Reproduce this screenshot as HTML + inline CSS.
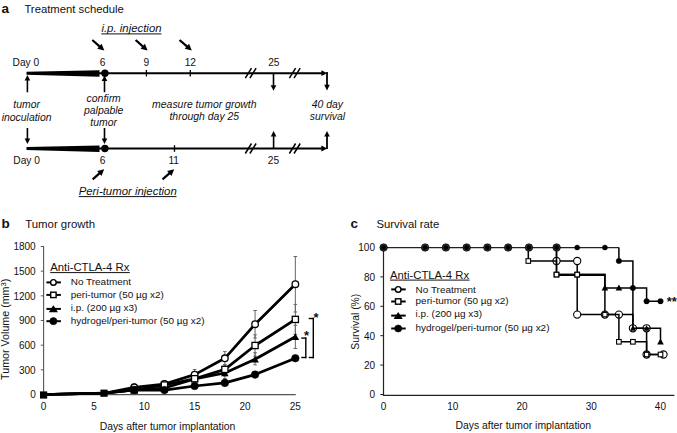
<!DOCTYPE html>
<html><head><meta charset="utf-8"><style>
html,body{margin:0;padding:0;background:#fff;}
svg{display:block;}
text{font-family:"Liberation Sans", sans-serif;fill:#111;}
</style></head><body>
<svg width="677" height="433" viewBox="0 0 677 433">
<rect width="677" height="433" fill="#fff"/>
<text x="1.50" y="13.20" font-size="13.5" text-anchor="start" font-weight="bold">a</text>
<text x="24.40" y="13.10" font-size="11.3" text-anchor="start">Treatment schedule</text>
<polygon points="26.50,71.80 99.50,70.30 99.50,76.70 26.50,74.80" fill="#000"/>
<line x1="99.00" y1="73.20" x2="322.00" y2="73.20" stroke="#000" stroke-width="2"/>
<circle cx="104.9" cy="73.20" r="3.7" fill="#000"/>
<line x1="146.40" y1="69.90" x2="146.40" y2="76.50" stroke="#000" stroke-width="1.3"/>
<line x1="190.30" y1="69.90" x2="190.30" y2="76.50" stroke="#000" stroke-width="1.3"/>
<line x1="245.30" y1="78.20" x2="251.50" y2="68.20" stroke="#000" stroke-width="1.5"/>
<line x1="249.90" y1="78.20" x2="256.10" y2="68.20" stroke="#000" stroke-width="1.5"/>
<line x1="289.40" y1="78.20" x2="295.60" y2="68.20" stroke="#000" stroke-width="1.5"/>
<line x1="294.00" y1="78.20" x2="300.20" y2="68.20" stroke="#000" stroke-width="1.5"/>
<polygon points="327.20,73.20 321.40,70.30 321.40,76.10" fill="#000"/>
<polygon points="26.50,147.10 99.50,145.60 99.50,152.00 26.50,150.10" fill="#000"/>
<line x1="99.00" y1="148.50" x2="322.00" y2="148.50" stroke="#000" stroke-width="2"/>
<circle cx="104.9" cy="148.50" r="3.7" fill="#000"/>
<line x1="174.50" y1="145.20" x2="174.50" y2="151.80" stroke="#000" stroke-width="1.3"/>
<line x1="245.30" y1="153.50" x2="251.50" y2="143.50" stroke="#000" stroke-width="1.5"/>
<line x1="249.90" y1="153.50" x2="256.10" y2="143.50" stroke="#000" stroke-width="1.5"/>
<line x1="289.40" y1="153.50" x2="295.60" y2="143.50" stroke="#000" stroke-width="1.5"/>
<line x1="294.00" y1="153.50" x2="300.20" y2="143.50" stroke="#000" stroke-width="1.5"/>
<polygon points="327.20,148.50 321.40,145.60 321.40,151.40" fill="#000"/>
<line x1="273.50" y1="73.00" x2="273.50" y2="85.70" stroke="#000" stroke-width="1.6"/>
<polygon points="273.50,90.80 270.70,85.20 276.30,85.20" fill="#000"/>
<line x1="327.00" y1="72.00" x2="327.00" y2="85.20" stroke="#000" stroke-width="1.8"/>
<polygon points="327.00,90.50 324.20,84.70 329.80,84.70" fill="#000"/>
<line x1="273.60" y1="148.00" x2="273.60" y2="136.00" stroke="#000" stroke-width="1.6"/>
<polygon points="273.60,131.00 276.40,136.50 270.80,136.50" fill="#000"/>
<line x1="327.00" y1="149.00" x2="327.00" y2="136.00" stroke="#000" stroke-width="1.8"/>
<polygon points="327.00,131.00 329.80,136.50 324.20,136.50" fill="#000"/>
<line x1="27.40" y1="92.30" x2="27.40" y2="80.00" stroke="#000" stroke-width="1.6"/>
<polygon points="27.40,75.00 30.20,80.50 24.60,80.50" fill="#000"/>
<line x1="27.40" y1="128.00" x2="27.40" y2="139.00" stroke="#000" stroke-width="1.6"/>
<polygon points="27.40,144.00 24.60,138.50 30.20,138.50" fill="#000"/>
<line x1="104.50" y1="92.20" x2="104.50" y2="80.60" stroke="#000" stroke-width="1.6"/>
<polygon points="104.50,75.60 107.30,81.10 101.70,81.10" fill="#000"/>
<line x1="104.50" y1="128.00" x2="104.50" y2="139.00" stroke="#000" stroke-width="1.6"/>
<polygon points="104.50,144.00 101.70,138.50 107.30,138.50" fill="#000"/>
<line x1="92.30" y1="40.00" x2="99.80" y2="46.63" stroke="#000" stroke-width="2.2"/>
<polygon points="104.30,50.60 97.24,48.77 101.61,43.82" fill="#000"/>
<line x1="135.60" y1="40.00" x2="143.10" y2="46.63" stroke="#000" stroke-width="2.2"/>
<polygon points="147.60,50.60 140.54,48.77 144.91,43.82" fill="#000"/>
<line x1="179.50" y1="40.00" x2="187.25" y2="46.68" stroke="#000" stroke-width="2.2"/>
<polygon points="191.80,50.60 184.72,48.86 189.03,43.86" fill="#000"/>
<line x1="92.70" y1="179.30" x2="99.69" y2="173.16" stroke="#000" stroke-width="2.2"/>
<polygon points="104.20,169.20 101.49,175.97 97.14,171.01" fill="#000"/>
<line x1="162.50" y1="179.30" x2="169.66" y2="173.12" stroke="#000" stroke-width="2.2"/>
<polygon points="174.20,169.20 171.44,175.95 167.12,170.95" fill="#000"/>
<text x="25.90" y="65.60" font-size="10.2" text-anchor="middle">Day 0</text>
<text x="102.50" y="65.60" font-size="10.2" text-anchor="middle">6</text>
<text x="146.40" y="65.60" font-size="10.2" text-anchor="middle">9</text>
<text x="190.30" y="65.60" font-size="10.2" text-anchor="middle">12</text>
<text x="273.80" y="65.60" font-size="10.2" text-anchor="middle">25</text>
<text x="26.60" y="164.30" font-size="10.2" text-anchor="middle">Day 0</text>
<text x="102.50" y="164.30" font-size="10.2" text-anchor="middle">6</text>
<text x="173.70" y="164.30" font-size="10.2" text-anchor="middle">11</text>
<text x="273.50" y="164.30" font-size="10.2" text-anchor="middle">25</text>
<text x="131.50" y="32.20" font-size="11.4" text-anchor="middle" font-style="italic">i.p. injection</text>
<line x1="101.30" y1="33.90" x2="161.40" y2="33.90" stroke="#111" stroke-width="1.0"/>
<text x="127.70" y="194.80" font-size="11.4" text-anchor="middle" font-style="italic">Peri-tumor injection</text>
<line x1="78.70" y1="196.60" x2="176.50" y2="196.60" stroke="#111" stroke-width="1.0"/>
<text x="26.60" y="108.20" font-size="10.45" text-anchor="middle" font-style="italic">tumor</text>
<text x="26.60" y="120.60" font-size="10.45" text-anchor="middle" font-style="italic">inoculation</text>
<text x="103.70" y="101.80" font-size="10.45" text-anchor="middle" font-style="italic">confirm</text>
<text x="103.70" y="113.80" font-size="10.45" text-anchor="middle" font-style="italic">palpable</text>
<text x="103.70" y="126.30" font-size="10.45" text-anchor="middle" font-style="italic">tumor</text>
<text x="204.30" y="107.90" font-size="10.45" text-anchor="middle" font-style="italic">measure tumor growth</text>
<text x="204.30" y="119.90" font-size="10.45" text-anchor="middle" font-style="italic">through day 25</text>
<text x="327.40" y="107.90" font-size="10.45" text-anchor="middle" font-style="italic">40 day</text>
<text x="327.40" y="120.30" font-size="10.45" text-anchor="middle" font-style="italic">survival</text>
<text x="1.50" y="227.70" font-size="13.5" text-anchor="start" font-weight="bold">b</text>
<text x="25.20" y="227.70" font-size="11.4" text-anchor="start">Tumor growth</text>
<line x1="43.60" y1="246.00" x2="43.60" y2="395.00" stroke="#555" stroke-width="1.1"/>
<line x1="43.60" y1="394.60" x2="295.80" y2="394.60" stroke="#555" stroke-width="1.1"/>
<line x1="40.80" y1="394.50" x2="43.60" y2="394.50" stroke="#555" stroke-width="1"/>
<text x="35.70" y="398.40" font-size="10" text-anchor="end">0</text>
<line x1="40.80" y1="369.83" x2="43.60" y2="369.83" stroke="#555" stroke-width="1"/>
<text x="35.70" y="373.73" font-size="10" text-anchor="end">300</text>
<line x1="40.80" y1="345.17" x2="43.60" y2="345.17" stroke="#555" stroke-width="1"/>
<text x="35.70" y="349.07" font-size="10" text-anchor="end">600</text>
<line x1="40.80" y1="320.50" x2="43.60" y2="320.50" stroke="#555" stroke-width="1"/>
<text x="35.70" y="324.40" font-size="10" text-anchor="end">900</text>
<line x1="40.80" y1="295.83" x2="43.60" y2="295.83" stroke="#555" stroke-width="1"/>
<text x="35.70" y="299.73" font-size="10" text-anchor="end">1200</text>
<line x1="40.80" y1="271.17" x2="43.60" y2="271.17" stroke="#555" stroke-width="1"/>
<text x="35.70" y="275.07" font-size="10" text-anchor="end">1500</text>
<line x1="40.80" y1="246.50" x2="43.60" y2="246.50" stroke="#555" stroke-width="1"/>
<text x="35.70" y="250.40" font-size="10" text-anchor="end">1800</text>
<text x="43.60" y="409.60" font-size="10" text-anchor="middle">0</text>
<text x="93.95" y="409.60" font-size="10" text-anchor="middle">5</text>
<text x="144.30" y="409.60" font-size="10" text-anchor="middle">10</text>
<text x="194.65" y="409.60" font-size="10" text-anchor="middle">15</text>
<text x="245.00" y="409.60" font-size="10" text-anchor="middle">20</text>
<text x="295.35" y="409.60" font-size="10" text-anchor="middle">25</text>
<text x="167.50" y="430.00" font-size="10.4" text-anchor="middle">Days after tumor implantation</text>
<text transform="translate(8.8,329.3) rotate(-90)" font-size="10.7" text-anchor="middle">Tumor Volume (mm<tspan font-size="7.6" dy="-3.0">3</tspan><tspan dy="3.0">)</tspan></text>
<line x1="295.35" y1="256.50" x2="295.35" y2="312.00" stroke="#666" stroke-width="1"/>
<line x1="293.55" y1="256.50" x2="297.15" y2="256.50" stroke="#666" stroke-width="1"/>
<line x1="293.55" y1="312.00" x2="297.15" y2="312.00" stroke="#666" stroke-width="1"/>
<line x1="295.35" y1="304.40" x2="295.35" y2="334.40" stroke="#666" stroke-width="1"/>
<line x1="293.55" y1="304.40" x2="297.15" y2="304.40" stroke="#666" stroke-width="1"/>
<line x1="293.55" y1="334.40" x2="297.15" y2="334.40" stroke="#666" stroke-width="1"/>
<line x1="295.35" y1="325.30" x2="295.35" y2="348.50" stroke="#666" stroke-width="1"/>
<line x1="293.55" y1="325.30" x2="297.15" y2="325.30" stroke="#666" stroke-width="1"/>
<line x1="293.55" y1="348.50" x2="297.15" y2="348.50" stroke="#666" stroke-width="1"/>
<line x1="255.07" y1="310.50" x2="255.07" y2="338.00" stroke="#666" stroke-width="1"/>
<line x1="253.27" y1="310.50" x2="256.87" y2="310.50" stroke="#666" stroke-width="1"/>
<line x1="253.27" y1="338.00" x2="256.87" y2="338.00" stroke="#666" stroke-width="1"/>
<line x1="255.07" y1="334.80" x2="255.07" y2="356.20" stroke="#666" stroke-width="1"/>
<line x1="253.27" y1="334.80" x2="256.87" y2="334.80" stroke="#666" stroke-width="1"/>
<line x1="253.27" y1="356.20" x2="256.87" y2="356.20" stroke="#666" stroke-width="1"/>
<line x1="255.07" y1="352.70" x2="255.07" y2="364.80" stroke="#666" stroke-width="1"/>
<line x1="253.27" y1="352.70" x2="256.87" y2="352.70" stroke="#666" stroke-width="1"/>
<line x1="253.27" y1="364.80" x2="256.87" y2="364.80" stroke="#666" stroke-width="1"/>
<line x1="224.86" y1="351.60" x2="224.86" y2="366.00" stroke="#666" stroke-width="1"/>
<line x1="223.06" y1="351.60" x2="226.66" y2="351.60" stroke="#666" stroke-width="1"/>
<line x1="223.06" y1="366.00" x2="226.66" y2="366.00" stroke="#666" stroke-width="1"/>
<line x1="224.86" y1="364.50" x2="224.86" y2="376.00" stroke="#666" stroke-width="1"/>
<line x1="223.06" y1="364.50" x2="226.66" y2="364.50" stroke="#666" stroke-width="1"/>
<line x1="223.06" y1="376.00" x2="226.66" y2="376.00" stroke="#666" stroke-width="1"/>
<line x1="224.86" y1="366.50" x2="224.86" y2="378.50" stroke="#666" stroke-width="1"/>
<line x1="223.06" y1="366.50" x2="226.66" y2="366.50" stroke="#666" stroke-width="1"/>
<line x1="223.06" y1="378.50" x2="226.66" y2="378.50" stroke="#666" stroke-width="1"/>
<line x1="194.65" y1="369.50" x2="194.65" y2="379.50" stroke="#666" stroke-width="1"/>
<line x1="192.85" y1="369.50" x2="196.45" y2="369.50" stroke="#666" stroke-width="1"/>
<line x1="192.85" y1="379.50" x2="196.45" y2="379.50" stroke="#666" stroke-width="1"/>
<line x1="194.65" y1="374.50" x2="194.65" y2="381.50" stroke="#666" stroke-width="1"/>
<line x1="192.85" y1="374.50" x2="196.45" y2="374.50" stroke="#666" stroke-width="1"/>
<line x1="192.85" y1="381.50" x2="196.45" y2="381.50" stroke="#666" stroke-width="1"/>
<line x1="164.44" y1="381.00" x2="164.44" y2="388.00" stroke="#666" stroke-width="1"/>
<line x1="162.64" y1="381.00" x2="166.24" y2="381.00" stroke="#666" stroke-width="1"/>
<line x1="162.64" y1="388.00" x2="166.24" y2="388.00" stroke="#666" stroke-width="1"/>
<line x1="134.23" y1="384.00" x2="134.23" y2="391.00" stroke="#666" stroke-width="1"/>
<line x1="132.43" y1="384.00" x2="136.03" y2="384.00" stroke="#666" stroke-width="1"/>
<line x1="132.43" y1="391.00" x2="136.03" y2="391.00" stroke="#666" stroke-width="1"/>
<polyline points="43.60,394.50 104.02,393.20 134.23,387.30 164.44,384.00 194.65,374.60 224.86,358.30 255.07,324.20 295.35,284.20" fill="none" stroke="#000" stroke-width="2.7" stroke-linejoin="round"/>
<polyline points="43.60,394.50 104.02,393.20 134.23,390.00 164.44,385.00 194.65,378.70 224.86,369.40 255.07,345.50 295.35,319.40" fill="none" stroke="#000" stroke-width="2.7" stroke-linejoin="round"/>
<polyline points="43.60,394.50 104.02,393.20 134.23,390.00 164.44,388.00 194.65,379.00 224.86,373.00 255.07,359.30 295.35,336.70" fill="none" stroke="#000" stroke-width="2.7" stroke-linejoin="round"/>
<polyline points="43.60,394.50 104.02,393.20 134.23,390.00 164.44,390.10 194.65,386.00 224.86,382.90 255.07,374.60 295.35,358.20" fill="none" stroke="#000" stroke-width="2.7" stroke-linejoin="round"/>
<circle cx="134.23" cy="387.30" r="3.3" fill="#fff" stroke="#000" stroke-width="1.3"/>
<circle cx="164.44" cy="384.00" r="3.3" fill="#fff" stroke="#000" stroke-width="1.3"/>
<circle cx="194.65" cy="374.60" r="3.3" fill="#fff" stroke="#000" stroke-width="1.3"/>
<circle cx="224.86" cy="358.30" r="3.3" fill="#fff" stroke="#000" stroke-width="1.3"/>
<circle cx="255.07" cy="324.20" r="3.3" fill="#fff" stroke="#000" stroke-width="1.3"/>
<circle cx="295.35" cy="284.20" r="3.3" fill="#fff" stroke="#000" stroke-width="1.3"/>
<polygon points="134.23,386.60 138.03,393.20 130.43,393.20" fill="#000"/>
<polygon points="164.44,384.60 168.24,391.20 160.64,391.20" fill="#000"/>
<polygon points="194.65,375.60 198.45,382.20 190.85,382.20" fill="#000"/>
<polygon points="224.86,369.60 228.66,376.20 221.06,376.20" fill="#000"/>
<polygon points="255.07,355.90 258.87,362.50 251.27,362.50" fill="#000"/>
<polygon points="295.35,333.30 299.15,339.90 291.55,339.90" fill="#000"/>
<rect x="131.13" y="386.90" width="6.2" height="6.2" fill="#fff" stroke="#000" stroke-width="1.3"/>
<rect x="161.34" y="381.90" width="6.2" height="6.2" fill="#fff" stroke="#000" stroke-width="1.3"/>
<rect x="191.55" y="375.60" width="6.2" height="6.2" fill="#fff" stroke="#000" stroke-width="1.3"/>
<rect x="221.76" y="366.30" width="6.2" height="6.2" fill="#fff" stroke="#000" stroke-width="1.3"/>
<rect x="251.97" y="342.40" width="6.2" height="6.2" fill="#fff" stroke="#000" stroke-width="1.3"/>
<rect x="292.25" y="316.30" width="6.2" height="6.2" fill="#fff" stroke="#000" stroke-width="1.3"/>
<circle cx="134.23" cy="390.00" r="3.8" fill="#000" stroke="#000" stroke-width="0.5"/>
<circle cx="164.44" cy="390.10" r="3.8" fill="#000" stroke="#000" stroke-width="0.5"/>
<circle cx="194.65" cy="386.00" r="3.8" fill="#000" stroke="#000" stroke-width="0.5"/>
<circle cx="224.86" cy="382.90" r="3.8" fill="#000" stroke="#000" stroke-width="0.5"/>
<circle cx="255.07" cy="374.60" r="3.8" fill="#000" stroke="#000" stroke-width="0.5"/>
<circle cx="295.35" cy="358.20" r="3.8" fill="#000" stroke="#000" stroke-width="0.5"/>
<rect x="40.00" y="391.4" width="7.2" height="7.2" fill="#000"/>
<rect x="100.42" y="389.6" width="7.2" height="7.2" fill="#000"/>
<line x1="301.30" y1="338.10" x2="306.30" y2="338.10" stroke="#000" stroke-width="1.4"/>
<line x1="305.80" y1="337.40" x2="305.80" y2="358.20" stroke="#000" stroke-width="1.4"/>
<line x1="301.30" y1="357.50" x2="306.30" y2="357.50" stroke="#000" stroke-width="1.4"/>
<line x1="308.70" y1="318.50" x2="314.00" y2="318.50" stroke="#000" stroke-width="1.4"/>
<line x1="313.30" y1="317.80" x2="313.30" y2="358.20" stroke="#000" stroke-width="1.4"/>
<line x1="308.70" y1="357.50" x2="314.00" y2="357.50" stroke="#000" stroke-width="1.4"/>
<text x="316.00" y="321.90" font-size="13" text-anchor="middle" font-weight="bold">*</text>
<text x="306.60" y="340.40" font-size="13" text-anchor="middle" font-weight="bold">*</text>
<text x="50.20" y="271.20" font-size="11.3" text-anchor="start">Anti-CTLA-4 Rx</text>
<line x1="50.20" y1="272.60" x2="129.80" y2="272.60" stroke="#111" stroke-width="1.0"/>
<text x="70.80" y="285.20" font-size="9.95" text-anchor="start">No Treatment</text>
<line x1="46.40" y1="282.40" x2="60.90" y2="282.40" stroke="#000" stroke-width="2"/>
<circle cx="53.40" cy="282.40" r="2.8" fill="#fff" stroke="#000" stroke-width="1.4"/>
<text x="70.80" y="297.70" font-size="9.95" text-anchor="start">peri-tumor (50 µg x2)</text>
<line x1="46.40" y1="294.90" x2="60.90" y2="294.90" stroke="#000" stroke-width="2"/>
<rect x="50.70" y="292.20" width="5.4" height="5.4" fill="#fff" stroke="#000" stroke-width="1.4"/>
<text x="70.80" y="310.80" font-size="9.95" text-anchor="start">i.p. (200 µg x3)</text>
<line x1="46.40" y1="308.90" x2="60.90" y2="308.90" stroke="#000" stroke-width="2"/>
<polygon points="53.40,305.20 58.00,312.30 48.80,312.30" fill="#000"/>
<text x="70.80" y="324.00" font-size="9.95" text-anchor="start">hydrogel/peri-tumor (50 µg x2)</text>
<line x1="46.40" y1="321.20" x2="60.90" y2="321.20" stroke="#000" stroke-width="2"/>
<circle cx="53.40" cy="321.20" r="3.6" fill="#000" stroke="#000" stroke-width="0.5"/>
<text x="350.50" y="227.70" font-size="13.5" text-anchor="start" font-weight="bold">c</text>
<text x="376.50" y="227.70" font-size="11.3" text-anchor="start">Survival rate</text>
<line x1="383.50" y1="246.00" x2="383.50" y2="396.00" stroke="#222" stroke-width="1.2"/>
<line x1="383.60" y1="395.40" x2="674.40" y2="395.40" stroke="#222" stroke-width="1.2"/>
<line x1="380.30" y1="394.50" x2="383.60" y2="394.50" stroke="#222" stroke-width="1"/>
<text x="375.00" y="398.40" font-size="10" text-anchor="end">0</text>
<line x1="380.30" y1="365.10" x2="383.60" y2="365.10" stroke="#222" stroke-width="1"/>
<text x="375.00" y="369.00" font-size="10" text-anchor="end">20</text>
<line x1="380.30" y1="335.70" x2="383.60" y2="335.70" stroke="#222" stroke-width="1"/>
<text x="375.00" y="339.60" font-size="10" text-anchor="end">40</text>
<line x1="380.30" y1="306.30" x2="383.60" y2="306.30" stroke="#222" stroke-width="1"/>
<text x="375.00" y="310.20" font-size="10" text-anchor="end">60</text>
<line x1="380.30" y1="276.90" x2="383.60" y2="276.90" stroke="#222" stroke-width="1"/>
<text x="375.00" y="280.80" font-size="10" text-anchor="end">80</text>
<line x1="380.30" y1="247.50" x2="383.60" y2="247.50" stroke="#222" stroke-width="1"/>
<text x="375.00" y="251.40" font-size="10" text-anchor="end">100</text>
<text x="383.60" y="409.80" font-size="10" text-anchor="middle">0</text>
<text x="452.80" y="409.80" font-size="10" text-anchor="middle">10</text>
<text x="522.00" y="409.80" font-size="10" text-anchor="middle">20</text>
<text x="591.20" y="409.80" font-size="10" text-anchor="middle">30</text>
<text x="660.40" y="409.80" font-size="10" text-anchor="middle">40</text>
<text x="523.30" y="428.80" font-size="10.4" text-anchor="middle">Days after tumor implantation</text>
<text x="0.00" y="0.60" font-size="10.4" text-anchor="middle" transform="translate(358.5,321.7) rotate(-90)">Survival (%)</text>
<text x="390.00" y="278.70" font-size="11.3" text-anchor="start">Anti-CTLA-4 Rx</text>
<line x1="390.00" y1="280.10" x2="469.60" y2="280.10" stroke="#111" stroke-width="1.0"/>
<text x="415.60" y="292.50" font-size="9.95" text-anchor="start">No Treatment</text>
<line x1="391.20" y1="289.40" x2="405.70" y2="289.40" stroke="#000" stroke-width="2"/>
<circle cx="398.20" cy="289.40" r="2.8" fill="#fff" stroke="#000" stroke-width="1.4"/>
<text x="415.60" y="304.30" font-size="9.95" text-anchor="start">peri-tumor (50 µg x2)</text>
<line x1="391.20" y1="301.50" x2="405.70" y2="301.50" stroke="#000" stroke-width="2"/>
<rect x="395.50" y="298.80" width="5.4" height="5.4" fill="#fff" stroke="#000" stroke-width="1.4"/>
<text x="415.60" y="316.70" font-size="9.95" text-anchor="start">i.p. (200 µg x3)</text>
<line x1="391.20" y1="315.60" x2="405.70" y2="315.60" stroke="#000" stroke-width="2"/>
<polygon points="398.20,311.90 402.80,319.00 393.60,319.00" fill="#000"/>
<text x="415.60" y="331.30" font-size="9.95" text-anchor="start">hydrogel/peri-tumor (50 µg x2)</text>
<line x1="391.20" y1="328.50" x2="405.70" y2="328.50" stroke="#000" stroke-width="2"/>
<circle cx="398.20" cy="328.50" r="3.6" fill="#000" stroke="#000" stroke-width="0.5"/>
<polyline points="556.50,247.50 556.50,261.00 577.20,261.00 577.20,314.60 632.90,314.60 632.90,328.30 646.60,328.30 646.60,354.50 663.50,354.50" fill="none" stroke="#000" stroke-width="1.5"/>
<circle cx="556.50" cy="261.00" r="3.6" fill="#fff" stroke="#000" stroke-width="1.1"/>
<circle cx="577.20" cy="261.00" r="3.6" fill="#fff" stroke="#000" stroke-width="1.1"/>
<circle cx="577.20" cy="314.60" r="3.6" fill="#fff" stroke="#000" stroke-width="1.1"/>
<circle cx="604.90" cy="314.60" r="3.6" fill="#fff" stroke="#000" stroke-width="1.1"/>
<circle cx="618.90" cy="314.60" r="3.6" fill="#fff" stroke="#000" stroke-width="1.1"/>
<circle cx="632.90" cy="328.30" r="3.6" fill="#fff" stroke="#000" stroke-width="1.1"/>
<circle cx="646.60" cy="328.30" r="3.6" fill="#fff" stroke="#000" stroke-width="1.1"/>
<circle cx="646.60" cy="354.50" r="3.6" fill="#fff" stroke="#000" stroke-width="1.1"/>
<circle cx="663.50" cy="354.50" r="3.6" fill="#fff" stroke="#000" stroke-width="1.1"/>
<polyline points="528.30,247.50 528.30,261.00 556.50,261.00 556.50,274.60 604.90,274.60 604.90,314.60 618.90,314.60 618.90,341.80 646.60,341.80 646.60,354.50 660.50,354.50" fill="none" stroke="#000" stroke-width="1.5"/>
<rect x="526.00" y="258.70" width="4.6" height="4.6" fill="#fff" stroke="#000" stroke-width="1.1"/>
<rect x="554.20" y="272.30" width="4.6" height="4.6" fill="#fff" stroke="#000" stroke-width="1.1"/>
<rect x="574.90" y="272.30" width="4.6" height="4.6" fill="#fff" stroke="#000" stroke-width="1.1"/>
<rect x="616.60" y="339.50" width="4.6" height="4.6" fill="#fff" stroke="#000" stroke-width="1.1"/>
<rect x="630.60" y="339.50" width="4.6" height="4.6" fill="#fff" stroke="#000" stroke-width="1.1"/>
<rect x="658.20" y="352.20" width="4.6" height="4.6" fill="#fff" stroke="#000" stroke-width="1.1"/>
<rect x="602.70" y="312.40" width="4.4" height="4.4" fill="#fff" stroke="#000" stroke-width="1.1"/>
<rect x="644.40" y="352.30" width="4.4" height="4.4" fill="#fff" stroke="#000" stroke-width="1.1"/>
<polyline points="556.50,247.50 556.50,274.60 604.90,274.60 604.90,288.00 632.90,288.00 632.90,328.30 660.50,328.30 660.50,341.80" fill="none" stroke="#000" stroke-width="1.5"/>
<line x1="556.50" y1="275.30" x2="604.90" y2="275.30" stroke="#000" stroke-width="1.5"/>
<polygon points="604.90,284.60 608.20,290.60 601.60,290.60" fill="#000"/>
<polygon points="618.90,284.60 622.20,290.60 615.60,290.60" fill="#000"/>
<polygon points="660.50,338.40 663.80,344.40 657.20,344.40" fill="#000"/>
<polygon points="632.90,325.30 635.90,330.70 629.90,330.70" fill="#000"/>
<polygon points="646.60,325.30 649.60,330.70 643.60,330.70" fill="#000"/>
<rect x="554.20" y="272.30" width="4.6" height="4.6" fill="#fff" stroke="#000" stroke-width="1.1"/>
<rect x="574.90" y="272.30" width="4.6" height="4.6" fill="#fff" stroke="#000" stroke-width="1.1"/>
<line x1="383.60" y1="247.50" x2="618.90" y2="247.50" stroke="#222" stroke-width="1.25"/>
<polyline points="618.90,247.50 618.90,261.00 632.90,261.00 632.90,288.00 646.60,288.00 646.60,301.20 660.50,301.20" fill="none" stroke="#000" stroke-width="1.5"/>
<circle cx="383.60" cy="247.50" r="3.8" fill="#000" stroke="#000" stroke-width="0.5"/>
<circle cx="383.60" cy="247.50" r="2.9" fill="none" stroke="#666" stroke-width="0.5"/>
<circle cx="425.12" cy="247.50" r="3.8" fill="#000" stroke="#000" stroke-width="0.5"/>
<circle cx="425.12" cy="247.50" r="2.9" fill="none" stroke="#666" stroke-width="0.5"/>
<circle cx="445.88" cy="247.50" r="3.8" fill="#000" stroke="#000" stroke-width="0.5"/>
<circle cx="445.88" cy="247.50" r="2.9" fill="none" stroke="#666" stroke-width="0.5"/>
<circle cx="466.64" cy="247.50" r="3.8" fill="#000" stroke="#000" stroke-width="0.5"/>
<circle cx="466.64" cy="247.50" r="2.9" fill="none" stroke="#666" stroke-width="0.5"/>
<circle cx="487.40" cy="247.50" r="3.8" fill="#000" stroke="#000" stroke-width="0.5"/>
<circle cx="487.40" cy="247.50" r="2.9" fill="none" stroke="#666" stroke-width="0.5"/>
<circle cx="508.16" cy="247.50" r="3.8" fill="#000" stroke="#000" stroke-width="0.5"/>
<circle cx="508.16" cy="247.50" r="2.9" fill="none" stroke="#666" stroke-width="0.5"/>
<circle cx="528.92" cy="247.50" r="3.8" fill="#000" stroke="#000" stroke-width="0.5"/>
<circle cx="528.92" cy="247.50" r="2.9" fill="none" stroke="#666" stroke-width="0.5"/>
<circle cx="556.60" cy="247.50" r="3.8" fill="#000" stroke="#000" stroke-width="0.5"/>
<circle cx="556.60" cy="247.50" r="2.9" fill="none" stroke="#666" stroke-width="0.5"/>
<circle cx="577.20" cy="247.50" r="2.6" fill="#000" stroke="#000" stroke-width="0.3"/>
<circle cx="604.90" cy="247.50" r="2.6" fill="#000" stroke="#000" stroke-width="0.3"/>
<circle cx="618.90" cy="261.00" r="2.8" fill="#000" stroke="#000" stroke-width="0.3"/>
<circle cx="632.90" cy="288.00" r="2.8" fill="#000" stroke="#000" stroke-width="0.3"/>
<circle cx="646.60" cy="301.20" r="2.8" fill="#000" stroke="#000" stroke-width="0.3"/>
<circle cx="660.50" cy="301.20" r="2.8" fill="#000" stroke="#000" stroke-width="0.3"/>
<text x="666.80" y="306.20" font-size="13" text-anchor="start" font-weight="bold">**</text>
</svg></body></html>
